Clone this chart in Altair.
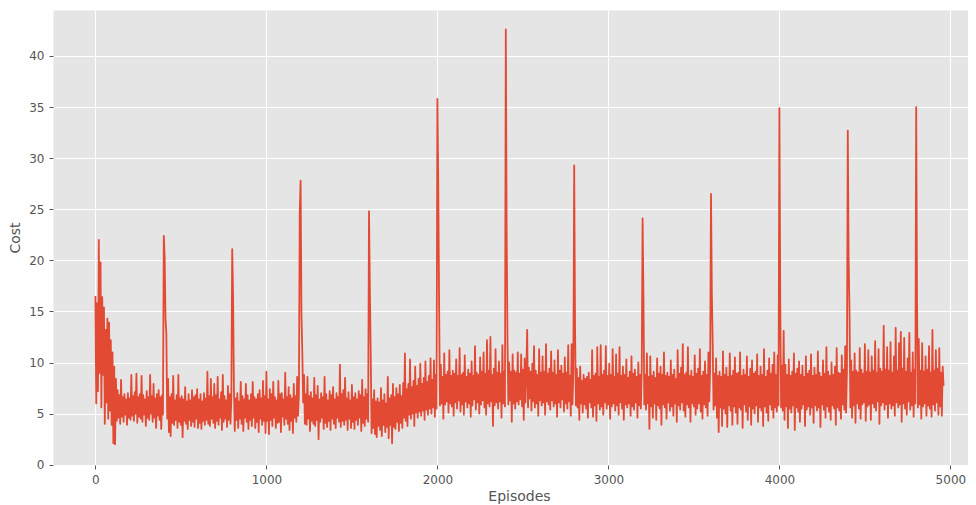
import altair as alt
import pandas as pd

# Cost per episode (one value every 5 episodes)
seg_0000 = [16.5, 6.0, 15.8, 7.2, 22.0, 9.0, 19.8, 5.6, 16.4, 8.8,
            15.4, 4.0, 13.2, 6.1, 14.3, 4.5, 13.9, 5.3, 12.2, 3.9,
            11.0, 2.1, 9.6, 2.0, 8.4, 4.3, 7.3, 4.6, 6.8, 4.0,
            8.3, 4.7, 6.6, 4.2, 6.9, 4.9, 6.4, 3.9, 7.0, 4.6,
            6.5, 4.4, 8.8, 4.8, 6.7, 4.3, 7.1, 5.0, 8.9, 4.1,
            6.6, 4.7, 6.9, 4.5, 8.7, 4.2, 6.8, 4.9, 6.4, 3.8,
            7.2, 4.6, 6.6, 4.4, 8.8, 5.0, 6.7, 4.2, 7.9, 4.6,
            6.5, 3.6, 6.9, 4.8, 7.3, 4.4, 6.6, 3.5, 6.8, 4.9]
seg_0400 = [22.4, 20.3, 14.3, 12.8, 4.5, 8.4, 3.2, 6.6, 2.8, 6.9,
            4.1, 8.7, 3.9, 6.3, 4.4, 6.8, 3.6, 8.8, 4.2, 6.5,
            3.9, 6.7, 2.7, 6.4, 4.3, 7.6, 4.0, 6.2, 3.5, 6.9,
            4.4, 6.3, 3.8, 7.3, 4.2, 6.6, 3.7, 6.8, 4.5, 7.4,
            3.6, 6.4, 4.1, 6.9, 3.5, 6.2, 4.3, 7.0, 3.9, 6.5,
            4.4, 9.1, 4.0, 6.7, 3.8, 8.4, 4.5, 6.6, 4.1, 7.9,
            3.6, 6.8, 4.3, 8.6, 3.9, 6.4, 4.6, 7.1, 3.4, 8.8,
            4.2, 6.7, 4.5, 6.3, 3.7, 7.7, 4.4, 6.9, 4.0, 6.6]
seg_0800 = [21.1, 16.7, 7.6, 3.3, 6.5, 4.4, 7.0, 3.6, 6.2, 4.5,
            8.1, 4.0, 6.7, 3.3, 6.4, 4.6, 7.9, 4.2, 6.8, 3.5,
            6.3, 4.4, 6.9, 3.8, 8.1, 4.6, 6.6, 3.6, 6.4, 4.2,
            6.9, 3.2, 7.3, 4.5, 6.5, 3.9, 8.2, 4.3, 6.7, 3.1,
            9.1, 4.3, 6.4, 3.0, 7.4, 4.4, 6.9, 3.8, 8.1, 4.6,
            6.6, 3.6, 6.3, 4.1, 8.2, 4.2, 6.9, 3.2, 7.0, 4.7,
            6.4, 3.9, 9.0, 4.5, 6.6, 4.0, 7.6, 3.4, 6.8, 4.3,
            6.5, 3.1, 7.9, 4.6, 6.7, 4.2, 8.6, 4.8, 6.9, 24.6]
seg_1200 = [27.8, 14.8, 11.0, 6.1, 8.8, 4.0, 6.9, 3.9, 8.6, 4.5,
            6.7, 3.3, 7.1, 4.3, 6.5, 4.0, 8.5, 3.8, 6.8, 4.4,
            7.7, 2.5, 6.4, 4.2, 7.0, 4.6, 6.6, 3.5, 8.6, 4.1,
            6.9, 3.7, 6.3, 4.3, 7.2, 3.4, 6.8, 4.5, 7.6, 4.0,
            6.4, 3.6, 7.0, 4.6, 6.6, 4.2, 9.8, 3.7, 6.9, 4.3,
            7.3, 3.9, 8.5, 4.4, 6.5, 3.4, 7.1, 4.5, 6.3, 3.6,
            7.8, 4.2, 6.6, 3.5, 7.0, 4.4, 6.4, 3.9, 7.2, 4.6,
            6.8, 3.3, 8.3, 4.1, 6.6, 3.8, 7.4, 4.5, 6.9, 4.2]
seg_1600 = [24.8, 17.2, 11.0, 3.1, 6.4, 3.6, 7.3, 3.0, 6.2, 2.7,
            6.5, 3.8, 6.1, 3.4, 7.5, 2.8, 6.3, 3.9, 6.9, 3.2,
            6.0, 3.7, 8.6, 2.6, 6.5, 3.9, 6.8, 2.1, 7.9, 3.7,
            6.6, 3.5, 7.5, 4.2, 6.9, 3.3, 7.8, 4.1, 6.7, 3.6,
            8.0, 4.6, 10.9, 4.3, 7.4, 3.8, 7.9, 4.9, 10.3, 4.5,
            7.6, 5.0, 8.2, 3.8, 9.6, 5.1, 7.7, 4.6, 8.4, 5.2,
            9.9, 4.8, 7.9, 5.3, 8.5, 4.4, 10.1, 5.4, 8.1, 4.9,
            8.7, 5.5, 10.4, 5.0, 8.3, 5.6, 10.2, 4.7, 8.8, 5.5]
seg_2000 = [35.8, 27.5, 15.7, 5.8, 9.8, 6.0, 8.6, 4.5, 10.9, 5.9,
            8.8, 6.2, 9.1, 5.1, 11.2, 6.0, 8.7, 5.7, 9.2, 4.8,
            8.9, 6.1, 10.3, 5.5, 8.7, 6.3, 11.4, 5.2, 8.8, 5.9,
            9.0, 4.9, 10.7, 6.2, 8.6, 5.6, 9.3, 6.0, 8.9, 4.7,
            10.1, 5.8, 8.7, 6.4, 11.6, 5.4, 9.0, 6.1, 8.8, 5.0,
            10.5, 5.9, 9.1, 6.3, 11.0, 5.6, 8.9, 4.9, 12.2, 6.0,
            9.2, 5.7, 12.5, 6.2, 8.8, 3.8, 9.4, 5.8, 11.3, 6.1,
            9.0, 5.5, 10.1, 6.2, 8.9, 4.6, 11.7, 6.0, 9.1, 5.7]
seg_2400 = [42.6, 22.6, 12.1, 5.9, 10.0, 6.3, 9.1, 4.2, 10.8, 6.0,
            9.2, 5.5, 9.0, 6.2, 11.0, 5.9, 8.9, 6.4, 10.8, 5.7,
            9.3, 4.4, 10.4, 6.1, 9.0, 13.2, 5.6, 9.5, 6.5, 9.1,
            5.3, 9.9, 6.2, 11.6, 5.6, 9.2, 6.0, 8.8, 4.8, 11.3,
            6.3, 9.0, 5.8, 10.6, 6.1, 9.1, 4.9, 11.8, 6.2, 8.9,
            5.9, 9.4, 5.4, 11.1, 6.3, 9.0, 5.7, 10.2, 6.0, 8.8,
            4.7, 11.2, 6.1, 9.2, 5.6, 9.7, 6.4, 8.9, 5.2, 10.5,
            6.0, 9.0, 5.5, 11.7, 6.2, 8.7, 4.8, 11.8, 5.9, 9.1]
seg_2800 = [29.3, 13.5, 5.8, 9.4, 5.6, 8.5, 4.4, 9.6, 6.0, 8.2,
            5.1, 8.8, 5.9, 8.4, 5.5, 8.6, 4.6, 9.0, 6.1, 8.3,
            5.6, 11.2, 4.7, 8.7, 5.8, 8.9, 4.3, 11.5, 6.0, 8.6,
            5.4, 11.7, 5.7, 8.8, 4.9, 9.2, 6.1, 11.6, 5.5, 8.7,
            5.9, 9.9, 4.5, 8.8, 5.7, 11.3, 6.0, 8.6, 5.3, 10.8,
            5.8, 8.9, 4.9, 11.5, 6.1, 8.7, 5.5, 9.6, 4.4, 8.8,
            5.9, 10.3, 5.6, 8.5, 6.0, 9.1, 4.8, 10.6, 5.7, 8.9,
            5.4, 9.3, 6.1, 8.6, 4.6, 10.0, 5.8, 8.8, 5.5, 9.4]
seg_3200 = [24.1, 16.5, 5.9, 8.8, 5.4, 10.9, 6.0, 8.6, 3.5, 10.6,
            5.7, 8.7, 4.6, 9.1, 6.0, 8.5, 4.4, 10.4, 5.8, 8.9,
            5.5, 9.6, 3.9, 8.8, 5.9, 11.0, 5.6, 8.7, 4.5, 9.0,
            6.1, 8.6, 5.3, 10.2, 5.7, 8.8, 4.8, 9.3, 6.0, 8.4,
            4.2, 11.2, 5.8, 8.9, 5.4, 9.5, 6.1, 11.8, 5.3, 8.8,
            4.7, 9.0, 5.9, 11.5, 5.6, 8.7, 4.2, 9.2, 6.0, 8.6,
            5.7, 10.7, 4.9, 8.9, 5.5, 9.4, 6.0, 11.3, 5.2, 8.7,
            4.5, 9.1, 5.9, 10.1, 5.6, 8.8, 4.8, 11.0, 6.2, 9.3]
seg_3600 = [26.5, 16.7, 11.8, 5.4, 8.9, 5.8, 10.4, 4.6, 8.7, 3.2,
            9.1, 5.6, 8.6, 3.8, 11.1, 5.5, 8.8, 5.0, 9.5, 3.7,
            8.6, 5.8, 10.9, 5.3, 8.7, 3.9, 9.2, 5.7, 10.5, 5.1,
            8.9, 4.0, 9.0, 5.6, 11.0, 5.4, 8.7, 3.6, 9.3, 5.9,
            8.8, 5.2, 10.6, 4.4, 8.6, 5.7, 9.4, 3.9, 10.2, 5.5,
            8.9, 5.0, 9.1, 5.8, 10.8, 4.2, 8.7, 5.6, 9.6, 5.3,
            8.8, 3.8, 11.3, 5.7, 8.6, 5.1, 9.2, 4.3, 10.4, 5.9,
            8.9, 5.4, 9.8, 4.6, 11.0, 5.6, 8.8, 5.2, 10.7, 5.8]
seg_4000 = [34.9, 16.0, 5.6, 9.7, 5.3, 13.1, 4.4, 9.8, 5.7, 8.8,
            3.6, 10.3, 5.5, 8.7, 5.1, 9.1, 5.8, 10.9, 3.4, 8.9,
            5.6, 9.4, 5.2, 10.1, 4.2, 8.8, 5.5, 9.7, 5.9, 8.6,
            3.8, 10.6, 5.4, 8.9, 5.7, 9.2, 4.9, 10.8, 5.6, 8.7,
            4.1, 9.5, 5.8, 8.8, 5.3, 11.1, 5.6, 9.0, 3.7, 8.6,
            5.9, 10.2, 5.4, 8.9, 4.6, 11.5, 5.7, 9.1, 5.2, 8.7,
            4.4, 10.0, 5.8, 8.8, 5.5, 9.6, 3.9, 11.4, 5.6, 9.0,
            5.3, 8.9, 4.5, 10.7, 5.9, 9.3, 5.4, 11.6, 5.1, 9.2]
seg_4400 = [32.7, 19.9, 15.1, 5.6, 10.2, 4.6, 9.1, 5.8, 10.9, 4.1,
            9.2, 6.0, 9.0, 5.5, 11.4, 4.5, 9.3, 5.9, 8.9, 6.1,
            11.8, 4.3, 9.1, 5.7, 11.2, 5.9, 9.0, 4.4, 10.6, 6.0,
            9.2, 5.6, 12.1, 5.3, 9.0, 6.2, 11.3, 4.0, 9.4, 5.8,
            9.1, 6.1, 13.6, 5.4, 9.3, 5.9, 11.5, 4.6, 9.2, 6.0,
            12.0, 5.5, 9.0, 5.8, 10.6, 4.8, 13.4, 6.1, 9.2, 5.6,
            11.9, 5.9, 13.0, 4.2, 9.4, 6.0, 12.4, 5.5, 9.1, 4.9,
            10.4, 6.2, 12.9, 5.4, 9.0, 5.8, 11.0, 4.7, 9.3, 6.0]
seg_4800 = [35.0, 16.0, 5.6, 12.3, 5.9, 9.2, 4.5, 11.9, 5.7, 9.1,
            6.0, 10.6, 4.8, 9.3, 5.8, 11.6, 5.5, 9.0, 4.7, 13.2,
            5.9, 9.2, 5.3, 11.2, 6.1, 9.4, 4.9, 11.4, 5.7, 9.0,
            4.8, 9.6, 7.7]

segments = [(0, seg_0000), (400, seg_0400), (800, seg_0800), (1200, seg_1200),
            (1600, seg_1600), (2000, seg_2000), (2400, seg_2400), (2800, seg_2800),
            (3200, seg_3200), (3600, seg_3600), (4000, seg_4000), (4400, seg_4400),
            (4800, seg_4800)]

x_ticks = [0, 1000, 2000, 3000, 4000, 5000]
y_ticks = [0, 5, 10, 15, 20, 25, 30, 35, 40]

episodes, costs = [], []
for start, vals in segments:
    for i, v in enumerate(vals):
        episodes.append(start + 5 * i)
        costs.append(v)

df = pd.DataFrame({"Episodes": episodes, "Cost": costs})

FONT = "DejaVu Sans"
GRAY = "#555555"

chart = (
    alt.Chart(df)
    .mark_line(color="#E24A33", strokeWidth=1.8, strokeJoin="round", clip=True)
    .encode(
        x=alt.X(
            "Episodes:Q",
            scale=alt.Scale(domain=[-248, 5103], nice=False, zero=False),
            axis=alt.Axis(
                values=x_ticks, format="d", title="Episodes",
                titleX=466, titlePadding=4,
            ),
        ),
        y=alt.Y(
            "Cost:Q",
            scale=alt.Scale(domain=[-0.03, 44.5], nice=False, zero=False),
            axis=alt.Axis(values=y_ticks, format="d", title="Cost", titlePadding=6),
        ),
    )
    .properties(
        width=915,
        height=455,
        autosize=alt.AutoSizeParams(type="none"),
        padding={"left": 45, "top": 2, "right": 0, "bottom": 40},
        background="white",
    )
    .configure_view(fill="#E5E5E5", stroke="transparent")
    .configure_axis(
        domain=False,
        grid=True,
        gridColor="white",
        gridWidth=1,
        tickColor=GRAY,
        tickSize=4,
        tickWidth=1,
        labelColor=GRAY,
        labelFont=FONT,
        labelFontSize=12,
        labelPadding=5,
        titleColor=GRAY,
        titleFont=FONT,
        titleFontSize=14,
        titleFontWeight="normal",
    )
)

chart.save("out.html", embed_options={"renderer": "svg", "actions": False})
